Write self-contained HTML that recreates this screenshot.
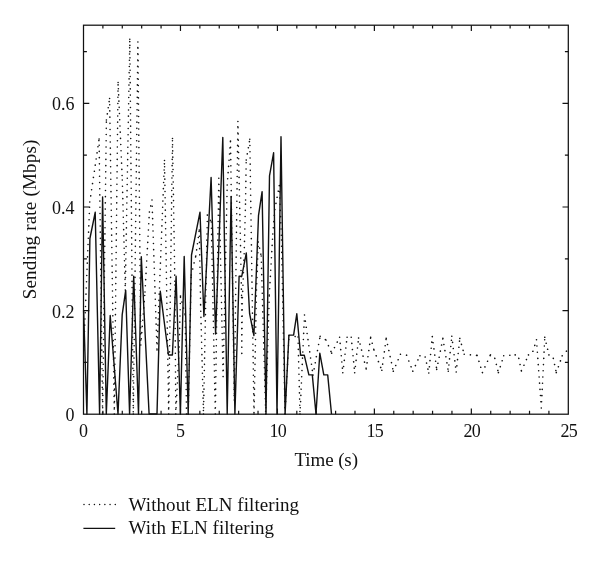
<!DOCTYPE html>
<html><head><meta charset="utf-8"><title>Sending rate</title>
<style>
html,body{margin:0;padding:0;background:#fff}
svg{display:block}
text{font-family:"Liberation Serif",serif;fill:#111}
.n text{font-size:18px}
.l{font-size:19px}
</style></head>
<body>
<svg width="600" height="564" viewBox="0 0 600 564">
<rect width="600" height="564" fill="#fff"/>
<path d="M83.7 350.0L89.8 202.0M89.8 202.0L99.1 139.0M99.1 139.0L102.6 414.0M102.6 414.0L106.4 120.0M106.4 120.0L109.6 98.5M109.6 98.5L114.3 414.0M114.3 414.0L118.1 82.5M118.1 82.5L122.3 180.0M122.3 180.0L125.3 290.0M125.3 290.0L129.8 39.2M129.8 39.2L133.3 414.0M133.3 414.0L137.9 42.0M137.9 42.0L140.8 345.0M140.8 345.0L145.0 292.0M145.0 292.0L149.4 212.0M149.4 212.0L152.0 200.0M152.0 200.0L157.0 350.0M157.0 350.0L164.5 160.5M164.5 160.5L168.7 414.0M168.7 414.0L172.5 138.5M172.5 138.5L174.9 285.0M174.9 285.0L175.8 414.0M175.8 414.0L179.2 347.0M179.2 347.0L180.5 296.0M180.5 296.0L185.2 315.0M185.2 315.0L186.5 414.0M186.5 414.0L188.2 414.0M188.2 414.0L191.2 275.0M191.2 275.0L195.8 256.0M195.8 256.0L199.3 230.0M199.3 230.0L200.6 305.0M200.6 305.0L203.5 414.0M203.5 414.0L207.4 215.0M207.4 215.0L211.3 222.0M211.3 222.0L215.3 414.0M215.3 414.0L218.8 178.3M218.8 178.3L223.1 376.6M223.1 376.6L227.2 185.0M227.2 185.0L230.5 141.0M230.5 141.0L234.3 400.0M234.3 400.0L237.9 121.5M237.9 121.5L241.6 297.6M241.6 297.6L241.8 353.4M241.8 353.4L242.4 297.6M242.4 297.6L244.0 260.0M244.0 260.0L245.6 200.0M245.6 200.0L246.2 160.0M246.2 160.0L249.8 139.3M249.8 139.3L254.0 414.0M254.0 414.0L256.5 290.0M256.5 290.0L258.3 242.0M258.3 242.0L261.2 256.0M261.2 256.0L265.7 414.0M265.7 414.0L269.3 295.0M269.3 295.0L272.8 234.0M272.8 234.0L274.8 209.5M274.8 209.5L279.3 185.6M279.3 185.6L281.5 240.0M281.5 240.0L285.0 414.0M285.0 414.0L289.0 335.5M289.0 335.5L298.0 337.0M298.0 337.0L300.0 414.0M300.0 414.0L304.5 315.0M304.5 315.0L313.0 375.0M313.0 375.0L320.1 336.3M320.1 336.3L326.0 340.0M326.0 340.0L331.7 353.2M331.7 353.2L339.6 337.2M339.6 337.2L342.8 372.7M342.8 372.7L347.1 337.2M347.1 337.2L351.2 337.2M351.2 337.2L354.7 372.7M354.7 372.7L358.6 338.0M358.6 338.0L366.2 369.0M366.2 369.0L370.7 337.2M370.7 337.2L374.0 350.0M374.0 350.0L381.8 370.3M381.8 370.3L386.2 338.4M386.2 338.4L393.3 371.2M393.3 371.2L400.4 354.3M400.4 354.3L406.6 355.2M406.6 355.2L412.8 371.2M412.8 371.2L419.9 355.7M419.9 355.7L425.2 357.0M425.2 357.0L428.8 373.0M428.8 373.0L432.3 336.6M432.3 336.6L436.7 369.4M436.7 369.4L442.9 338.4M442.9 338.4L448.3 371.2M448.3 371.2L451.8 336.2M451.8 336.2L456.2 372.0M456.2 372.0L459.8 338.4M459.8 338.4L464.2 354.3M464.2 354.3L477.1 355.4M477.1 355.4L482.4 372.6M482.4 372.6L490.4 354.9M490.4 354.9L494.8 358.4M494.8 358.4L498.4 372.6M498.4 372.6L503.7 355.8M503.7 355.8L515.2 354.9M515.2 354.9L518.8 358.4M518.8 358.4L521.4 370.9M521.4 370.9L528.5 354.9M528.5 354.9L532.9 351.3M532.9 351.3L536.5 339.8M536.5 339.8L541.3 408.0M541.3 408.0L544.8 337.2M544.8 337.2L548.9 354.9M548.9 354.9L553.3 358.4M553.3 358.4L556.3 372.6M556.3 372.6L562.2 355.8M562.2 355.8L567.5 350.0" fill="none" stroke="#111" stroke-width="1.6" stroke-dasharray="0.01 6.2" stroke-linecap="round" stroke-linejoin="round"/>
<polyline points="83.6,310.4 86.9,414.0 89.9,238.5 95.2,212.3 99.6,414.0 102.6,197.0 106.3,414.0 110.2,315.5 118.0,414.0 122.2,314.6 125.7,290.4 129.6,414.0 133.7,276.3 138.5,414.0 141.3,256.7 149.1,414.0 157.0,414.0 160.3,291.3 168.5,355.0 172.4,355.0 176.1,276.3 180.4,414.0 184.2,256.5 188.2,414.0 191.5,255.0 200.0,212.2 203.9,316.5 211.1,177.5 215.6,334.0 222.8,137.5 227.2,414.0 231.1,196.5 234.9,414.0 239.1,276.2 241.8,276.2 246.3,253.0 249.6,313.5 253.9,335.5 258.5,215.7 262.1,191.7 266.0,414.0 269.5,175.9 273.6,152.8 277.0,414.0 281.0,136.8 285.1,414.0 288.9,335.1 293.6,335.1 296.8,313.8 300.6,355.3 304.3,355.3 308.9,374.9 312.3,374.9 316.0,414.0 319.8,353.2 323.8,374.9 327.7,374.9 331.5,414.0" fill="none" stroke="#111" stroke-width="1.4" stroke-linejoin="round"/>
<rect x="83.5" y="25.2" width="484.8" height="389.0" fill="none" stroke="#111" stroke-width="1.25"/>
<path d="M102.89 414.20v-3.4M102.89 25.20v3.4M122.28 414.20v-3.4M122.28 25.20v3.4M141.68 414.20v-3.4M141.68 25.20v3.4M161.07 414.20v-3.4M161.07 25.20v3.4M180.46 414.20v-5.8M180.46 25.20v5.8M199.85 414.20v-3.4M199.85 25.20v3.4M219.24 414.20v-3.4M219.24 25.20v3.4M238.64 414.20v-3.4M238.64 25.20v3.4M258.03 414.20v-3.4M258.03 25.20v3.4M277.42 414.20v-5.8M277.42 25.20v5.8M296.81 414.20v-3.4M296.81 25.20v3.4M316.20 414.20v-3.4M316.20 25.20v3.4M335.60 414.20v-3.4M335.60 25.20v3.4M354.99 414.20v-3.4M354.99 25.20v3.4M374.38 414.20v-5.8M374.38 25.20v5.8M393.77 414.20v-3.4M393.77 25.20v3.4M413.16 414.20v-3.4M413.16 25.20v3.4M432.56 414.20v-3.4M432.56 25.20v3.4M451.95 414.20v-3.4M451.95 25.20v3.4M471.34 414.20v-5.8M471.34 25.20v5.8M490.73 414.20v-3.4M490.73 25.20v3.4M510.12 414.20v-3.4M510.12 25.20v3.4M529.52 414.20v-3.4M529.52 25.20v3.4M548.91 414.20v-3.4M548.91 25.20v3.4M83.50 362.40h3.4M568.30 362.40h-3.4M83.50 310.60h5.8M568.30 310.60h-5.8M83.50 258.80h3.4M568.30 258.80h-3.4M83.50 207.00h5.8M568.30 207.00h-5.8M83.50 155.20h3.4M568.30 155.20h-3.4M83.50 103.40h5.8M568.30 103.40h-5.8M83.50 51.60h3.4M568.30 51.60h-3.4" fill="none" stroke="#111" stroke-width="1.2"/>
<g class="n"><text x="83.5" y="436.5" text-anchor="middle">0</text><text x="180.5" y="436.5" text-anchor="middle">5</text><text x="277.8" y="436.5" text-anchor="middle" letter-spacing="-0.8">10</text><text x="374.8" y="436.5" text-anchor="middle" letter-spacing="-0.8">15</text><text x="471.7" y="436.5" text-anchor="middle" letter-spacing="-0.8">20</text><text x="568.7" y="436.5" text-anchor="middle" letter-spacing="-0.8">25</text><text x="74.6" y="421.2" text-anchor="end">0</text><text x="74.6" y="317.6" text-anchor="end">0.2</text><text x="74.6" y="214.0" text-anchor="end">0.4</text><text x="74.6" y="110.4" text-anchor="end">0.6</text></g>
<text class="l" x="326.2" y="465.6" text-anchor="middle" textLength="63.6" lengthAdjust="spacing">Time (s)</text>
<text class="l" transform="translate(36.1 219.5) rotate(-90)" text-anchor="middle" textLength="159.7" lengthAdjust="spacing">Sending rate (Mbps)</text>
<line x1="84" y1="504.6" x2="116" y2="504.6" stroke="#111" stroke-width="1.5" stroke-dasharray="0.01 5.2" stroke-linecap="round"/>
<line x1="83.4" y1="528.4" x2="115.2" y2="528.4" stroke="#111" stroke-width="1.35"/>
<text class="l" x="128.6" y="510.6" textLength="170.5" lengthAdjust="spacing">Without ELN filtering</text>
<text class="l" x="128.6" y="534.4" textLength="145.4" lengthAdjust="spacing">With ELN filtering</text>
</svg>
</body></html>
